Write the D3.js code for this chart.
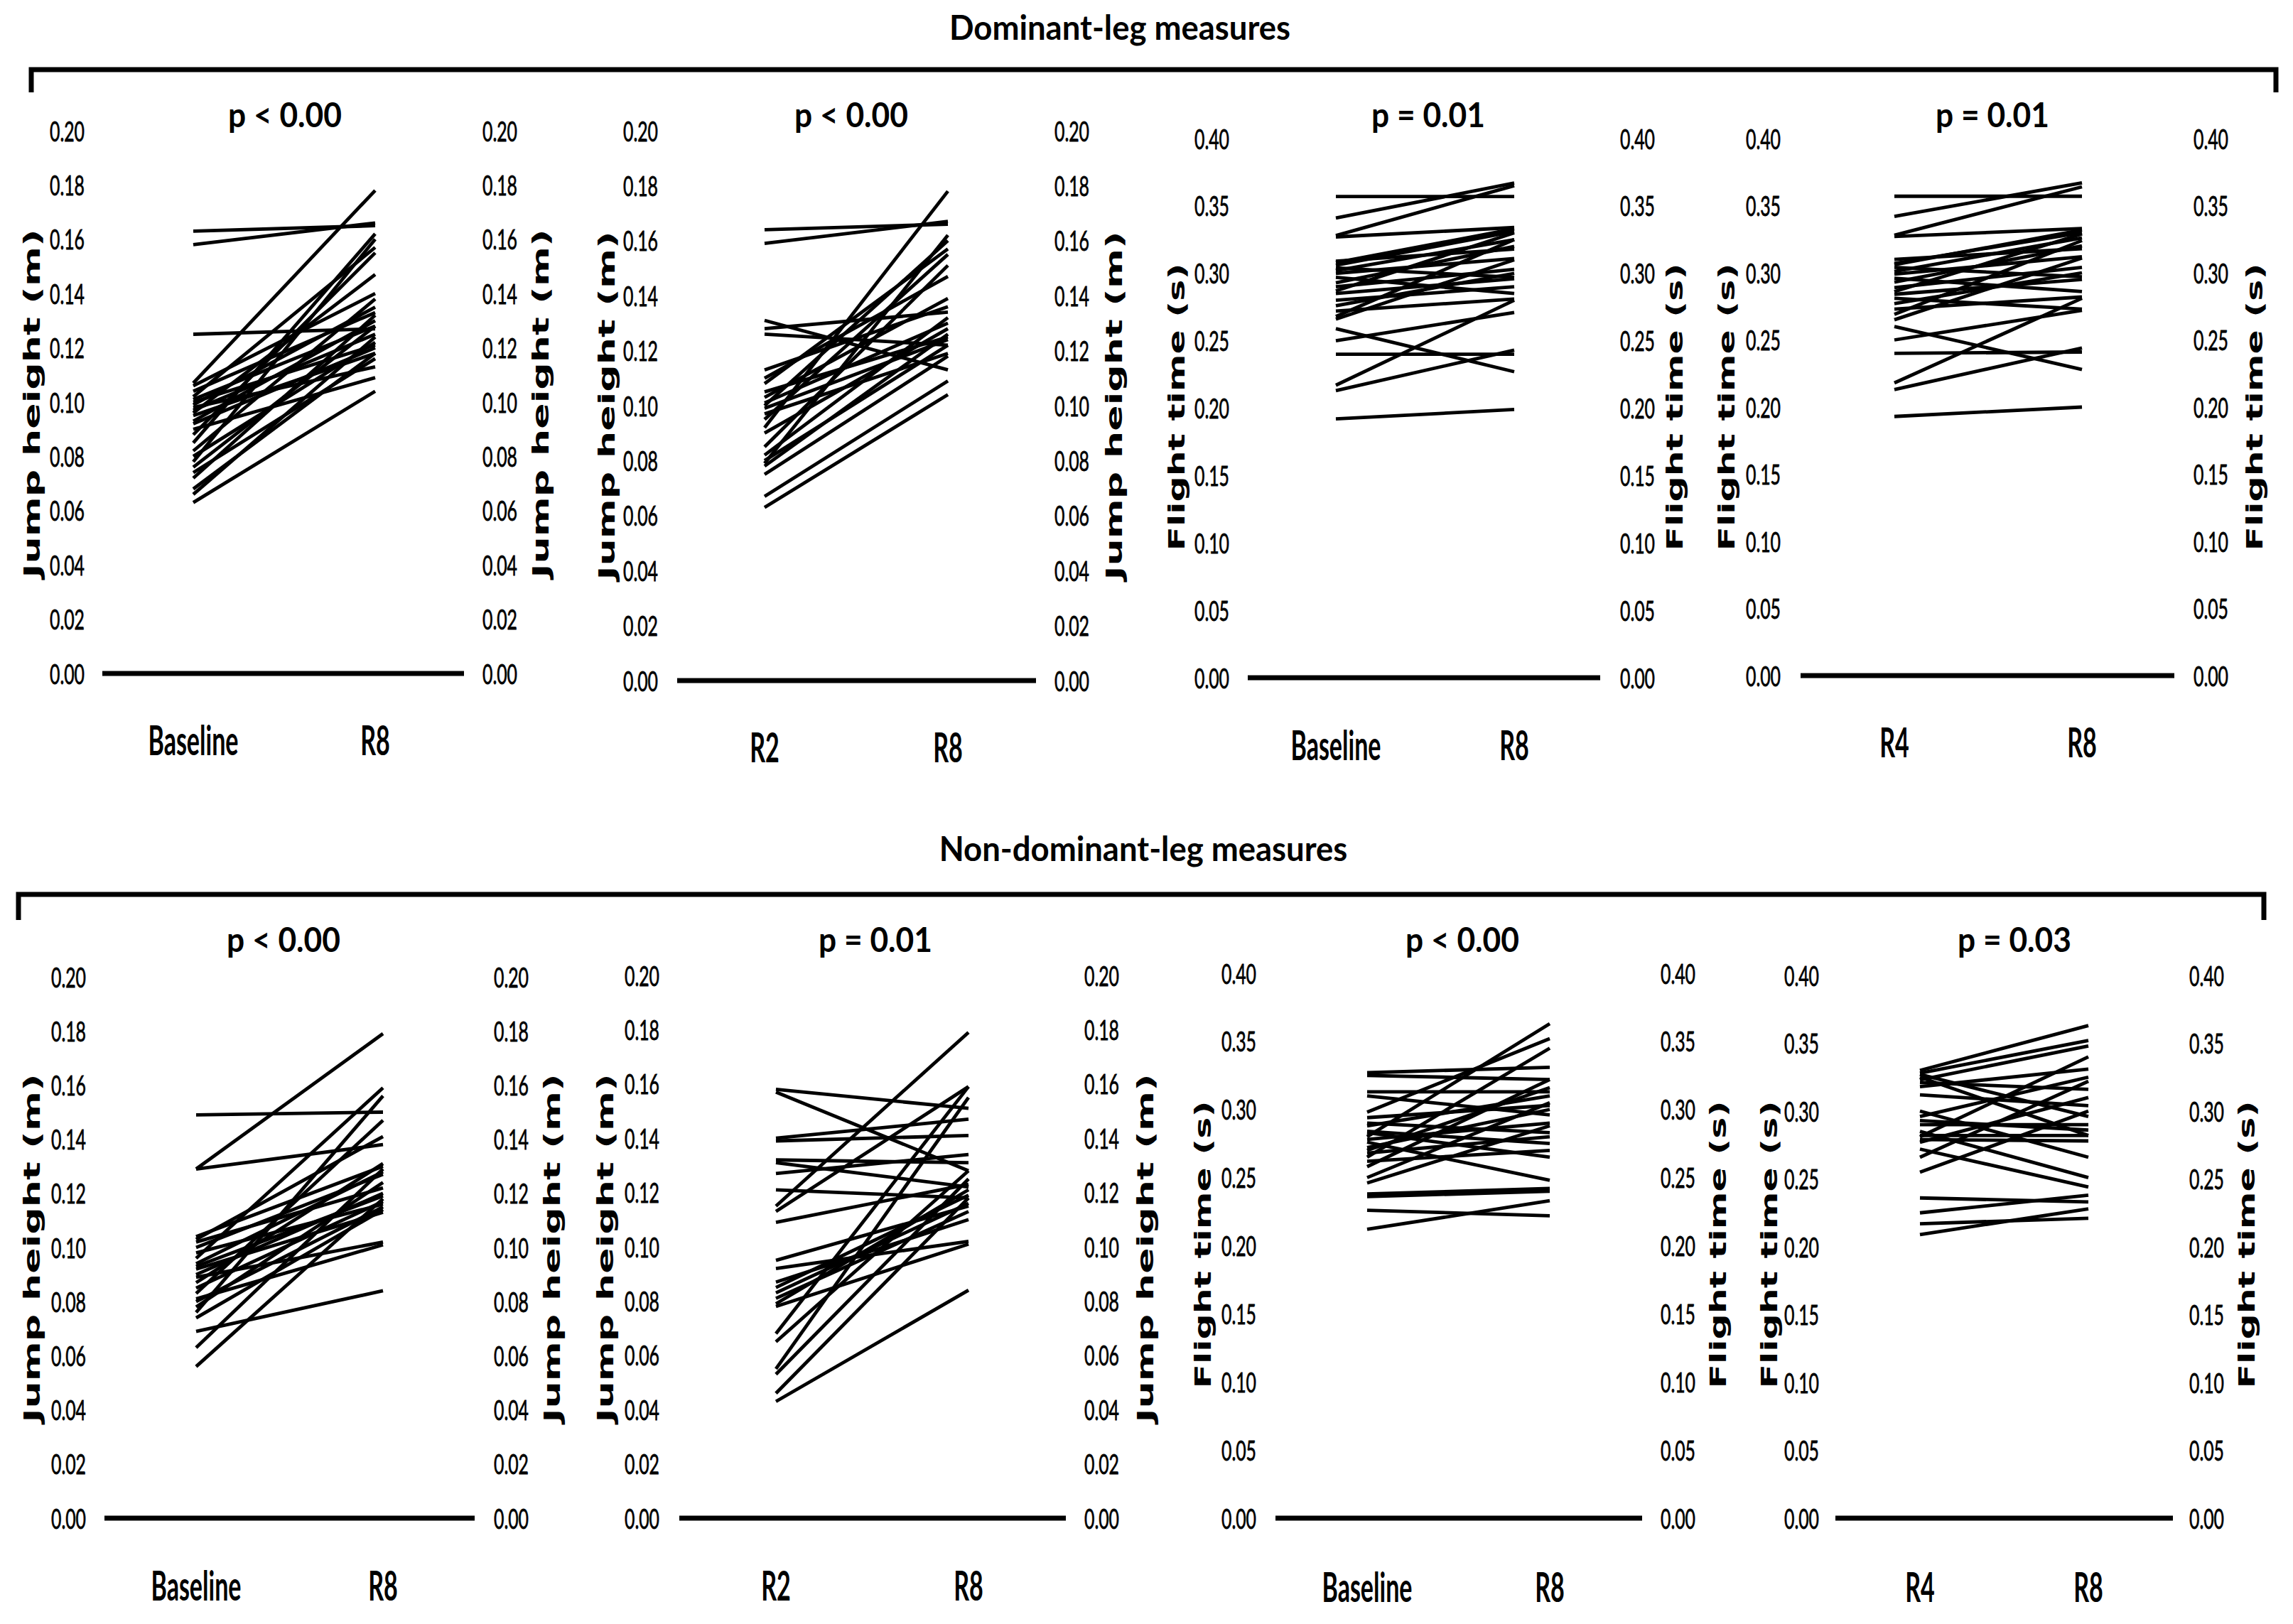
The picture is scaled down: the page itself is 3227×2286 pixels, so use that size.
<!DOCTYPE html>
<html>
<head>
<meta charset="utf-8">
<script src="https://cdn.jsdelivr.net/npm/d3@7"></script>
<style>
  body { margin: 0; background: #fff; }
  svg { display: block; }
  .tick text { font-family: Lato, "Open Sans", sans-serif; font-size: 39px; fill: #000; stroke: #000; stroke-width: 0.8px; }
  .cat { font-family: Lato, sans-serif; font-size: 58px; font-weight: 700; }
  .pval { font-family: Lato, sans-serif; font-size: 48px; font-weight: 700; }
  .title { font-family: Lato, sans-serif; font-size: 48px; font-weight: 700; }
  .ylab { font-family: "DejaVu Sans", sans-serif; font-size: 32px; font-weight: 700; }
</style>
</head>
<body>
<div id="chart"></div>
<script>
// ---- data ----
const groupTitles = ["Dominant-leg measures", "Non-dominant-leg measures"];
const catsBase = ["Baseline", "R8"];
const catsR2 = ["R2", "R8"];
const catsR4 = ["R4", "R8"];
const pValues = ["p < 0.00", "p < 0.00", "p = 0.01", "p = 0.01", "p < 0.00", "p = 0.01", "p < 0.00", "p = 0.03"];
const jumpTicks = [0, 0.02, 0.04, 0.06, 0.08, 0.10, 0.12, 0.14, 0.16, 0.18, 0.20];
const flightTicks = [0, 0.05, 0.10, 0.15, 0.20, 0.25, 0.30, 0.35, 0.40];
const jumpLabel = "Jump height (m)";
const flightLabel = "Flight time (s)";

// dominant leg, jump height, baseline -> R8
const domJumpBase = [0.163,0.158,0.125,0.107,0.106,0.104,0.102,0.101,0.100,0.099,0.098,0.097,0.096,0.095,0.093,0.090,0.088,0.085,0.082,0.080,0.078,0.076,0.072,0.068,0.066,0.063,0.092,0.074];
const domJumpBaseR8 = [0.165,0.166,0.127,0.178,0.140,0.133,0.157,0.128,0.121,0.135,0.113,0.125,0.147,0.118,0.130,0.109,0.155,0.162,0.138,0.122,0.160,0.128,0.132,0.118,0.124,0.104,0.120,0.116];
// dominant leg, jump height, R2 -> R8
const domJumpR2 = [0.164,0.159,0.131,0.128,0.126,0.110,0.108,0.105,0.103,0.101,0.100,0.097,0.095,0.092,0.090,0.085,0.082,0.080,0.079,0.078,0.075,0.067,0.063,0.113,0.099];
const domJumpR2R8 = [0.166,0.167,0.113,0.134,0.122,0.147,0.157,0.125,0.139,0.130,0.160,0.119,0.155,0.178,0.128,0.151,0.132,0.122,0.162,0.126,0.118,0.109,0.104,0.136,0.124];
// dominant leg, flight time, baseline -> R8
const domFlightBase = [0.357,0.341,0.328,0.327,0.309,0.306,0.304,0.302,0.300,0.297,0.293,0.290,0.287,0.280,0.276,0.272,0.268,0.266,0.259,0.250,0.240,0.217,0.213,0.192,0.285,0.308];
const domFlightBaseR8 = [0.357,0.367,0.365,0.334,0.318,0.331,0.297,0.325,0.311,0.285,0.320,0.303,0.330,0.290,0.300,0.281,0.325,0.310,0.227,0.271,0.240,0.280,0.243,0.199,0.296,0.333];
// dominant leg, flight time, R4 -> R8
const domFlightR4 = [0.357,0.342,0.328,0.327,0.310,0.307,0.304,0.301,0.299,0.296,0.293,0.289,0.286,0.281,0.277,0.273,0.269,0.265,0.260,0.250,0.240,0.218,0.213,0.193,0.284,0.306];
const domFlightR4R8 = [0.357,0.367,0.364,0.333,0.318,0.330,0.297,0.326,0.312,0.286,0.320,0.304,0.329,0.273,0.300,0.282,0.324,0.311,0.228,0.272,0.241,0.281,0.244,0.200,0.295,0.332];
// non-dominant leg, jump height, baseline -> R8
const ndJumpBase = [0.149,0.129,0.129,0.104,0.103,0.102,0.100,0.098,0.096,0.094,0.092,0.090,0.089,0.087,0.085,0.083,0.080,0.078,0.076,0.074,0.069,0.063,0.056,0.081,0.093];
const ndJumpBaseR8 = [0.150,0.179,0.138,0.130,0.141,0.122,0.127,0.116,0.159,0.128,0.113,0.120,0.102,0.131,0.117,0.147,0.115,0.124,0.156,0.114,0.084,0.129,0.118,0.101,0.119];
// non-dominant leg, jump height, R2 -> R8
const ndJumpR2 = [0.158,0.157,0.140,0.139,0.132,0.131,0.127,0.121,0.115,0.113,0.109,0.095,0.092,0.085,0.083,0.081,0.079,0.068,0.065,0.055,0.053,0.046,0.043,0.087,0.078];
const ndJumpR2R8 = [0.151,0.128,0.147,0.141,0.131,0.122,0.134,0.118,0.179,0.159,0.123,0.115,0.102,0.119,0.116,0.113,0.121,0.159,0.128,0.155,0.125,0.118,0.084,0.110,0.101];
// non-dominant leg, flight time, baseline -> R8
const ndFlightBase = [0.327,0.325,0.313,0.310,0.298,0.294,0.290,0.288,0.284,0.280,0.278,0.276,0.272,0.268,0.265,0.262,0.258,0.250,0.246,0.238,0.236,0.226,0.212,0.283,0.270];
const ndFlightBaseR8 = [0.331,0.322,0.313,0.296,0.352,0.303,0.283,0.310,0.275,0.363,0.290,0.248,0.300,0.280,0.345,0.270,0.322,0.305,0.288,0.242,0.240,0.222,0.233,0.265,0.316];
// non-dominant leg, flight time, R4 -> R8
const ndFlightR4 = [0.330,0.328,0.327,0.325,0.323,0.321,0.318,0.312,0.300,0.296,0.290,0.285,0.282,0.279,0.277,0.272,0.266,0.255,0.236,0.225,0.217,0.209,0.281,0.293];
const ndFlightR4R8 = [0.363,0.352,0.296,0.282,0.348,0.316,0.331,0.304,0.266,0.325,0.290,0.251,0.282,0.278,0.310,0.244,0.322,0.300,0.233,0.238,0.221,0.228,0.340,0.286];

// ---- layout (pixel geometry of each small panel) ----
const W = 3227, H = 2286;
const panels = [
  {pre: domJumpBase, post: domJumpBaseR8, cats: catsBase, kind: "jump",
   yTop: 184, y0: 948, xa: 272, xb: 528, ax0: 144, ax1: 653, tl: 119, tr: 679, yl: 45, yr: 761, ly: 568, px: 401, py: 179, cy: 1063},
  {pre: domJumpR2, post: domJumpR2R8, cats: catsR2, kind: "jump",
   yTop: 184, y0: 958, xa: 1076, xb: 1334, ax0: 953, ax1: 1458, tl: 926, tr: 1484, yl: 854, yr: 1568, ly: 571, px: 1198, py: 179, cy: 1073},
  {pre: domFlightBase, post: domFlightBaseR8, cats: catsBase, kind: "flight",
   yTop: 195, y0: 954, xa: 1880, xb: 2131, ax0: 1756, ax1: 2252, tl: 1730, tr: 2280, yl: 1656, yr: 2357, ly: 573, px: 2010, py: 179, cy: 1070},
  {pre: domFlightR4, post: domFlightR4R8, cats: catsR4, kind: "flight",
   yTop: 195, y0: 951, xa: 2666, xb: 2930, ax0: 2534, ax1: 3060, tl: 2506, tr: 3087, yl: 2430, yr: 3173, ly: 573, px: 2804, py: 179, cy: 1066},
  {pre: ndJumpBase, post: ndJumpBaseR8, cats: catsBase, kind: "jump",
   yTop: 1375, y0: 2137, xa: 276, xb: 539, ax0: 147, ax1: 668, tl: 121, tr: 695, yl: 45, yr: 777, ly: 1757, px: 399, py: 1340, cy: 2253},
  {pre: ndJumpR2, post: ndJumpR2R8, cats: catsR2, kind: "jump",
   yTop: 1373, y0: 2137, xa: 1092, xb: 1363, ax0: 956, ax1: 1500, tl: 928, tr: 1526, yl: 852, yr: 1612, ly: 1757, px: 1232, py: 1340, cy: 2253},
  {pre: ndFlightBase, post: ndFlightBaseR8, cats: catsBase, kind: "flight",
   yTop: 1370, y0: 2137, xa: 1924, xb: 2181, ax0: 1795, ax1: 2311, tl: 1768, tr: 2337, yl: 1693, yr: 2418, ly: 1752, px: 2058, py: 1340, cy: 2255},
  {pre: ndFlightR4, post: ndFlightR4R8, cats: catsR4, kind: "flight",
   yTop: 1373, y0: 2137, xa: 2702, xb: 2939, ax0: 2583, ax1: 3058, tl: 2560, tr: 3081, yl: 2490, yr: 3162, ly: 1752, px: 2835, py: 1340, cy: 2255}
];
const brackets = [
  {title: groupTitles[0], tx: 1576, ty: 56, x0: 44, x1: 3203, y: 98, drop: 130},
  {title: groupTitles[1], tx: 1609, ty: 1212, x0: 26, x1: 3186, y: 1259, drop: 1295}
];

const svg = d3.select("#chart").append("svg")
  .attr("width", W).attr("height", H)
  .attr("viewBox", `0 0 ${W} ${H}`);

svg.append("rect").attr("width", W).attr("height", H).attr("fill", "#fff");

// squeeze text horizontally (the figure is stretched vertically)
function fitWidth(sel, ref, target) {
  const probe = svg.append("text").attr("class", sel.attr("class")).text(ref);
  const k = target / probe.node().getComputedTextLength();
  probe.remove();
  sel.each(function() {
    const w = this.getComputedTextLength();
    d3.select(this).attr("textLength", w * k).attr("lengthAdjust", "spacingAndGlyphs");
  });
}

// group titles and brackets
brackets.forEach(b => {
  const t = svg.append("text").attr("class", "title")
    .attr("x", b.tx).attr("y", b.ty)
    .attr("text-anchor", "middle")
    .text(b.title);
  fitWidth(t, groupTitles[0], 480);

  svg.append("path")
    .attr("d", `M${b.x0},${b.drop}V${b.y}H${b.x1}V${b.drop}`)
    .attr("fill", "none")
    .attr("stroke", "#000")
    .attr("stroke-width", 7);
});

panels.forEach((p, i) => {
  const isJump = p.kind === "jump";
  const ticks = isJump ? jumpTicks : flightTicks;
  const y = d3.scaleLinear()
    .domain([0, isJump ? 0.20 : 0.40])
    .range([p.y0, p.yTop]);
  const x = d3.scalePoint().domain(p.cats).range([p.xa, p.xb]);

  const g = svg.append("g").attr("class", "panel");

  // left and right tick labels, no axis lines
  const left = g.append("g")
    .attr("transform", `translate(${p.tl},0)`)
    .call(d3.axisLeft(y).tickValues(ticks).tickFormat(d3.format(".2f")).tickSize(0).tickPadding(0));
  const right = g.append("g")
    .attr("transform", `translate(${p.tr},0)`)
    .call(d3.axisRight(y).tickValues(ticks).tickFormat(d3.format(".2f")).tickSize(0).tickPadding(0));
  [left, right].forEach(a => {
    a.select(".domain").remove();
    a.selectAll(".tick text").attr("dy", "0.36em").each(function() {
      d3.select(this).attr("textLength", 49).attr("lengthAdjust", "spacingAndGlyphs");
    });
  });

  // zero line
  g.append("line")
    .attr("x1", p.ax0).attr("x2", p.ax1)
    .attr("y1", y(0)).attr("y2", y(0))
    .attr("stroke", "#000").attr("stroke-width", 7);

  // one line per participant
  const pairs = p.pre.map((v, j) => [v, p.post[j]]);
  g.append("g").selectAll("line.subj")
    .data(pairs)
    .join("line")
    .attr("class", "subj")
    .attr("x1", x(p.cats[0])).attr("x2", x(p.cats[1]))
    .attr("y1", d => y(d[0])).attr("y2", d => y(d[1]))
    .attr("stroke", "#000")
    .attr("stroke-width", 4.8)
    .attr("stroke-linecap", "butt");

  // category labels
  const cats = g.selectAll("text.cat")
    .data(p.cats)
    .join("text")
    .attr("class", "cat")
    .attr("x", d => x(d)).attr("y", p.cy)
    .attr("text-anchor", "middle")
    .text(d => d);
  fitWidth(cats, "Baseline", 127);

  // p value
  const pv = g.append("text").attr("class", "pval")
    .attr("x", p.px).attr("y", p.py)
    .attr("text-anchor", "middle")
    .text(pValues[i]);
  fitWidth(pv, "p < 0.00", 160);

  // y labels on both sides
  const label = isJump ? jumpLabel : flightLabel;
  [p.yl, p.yr].forEach(lx => {
    g.append("text").attr("class", "ylab")
      .attr("transform", `translate(${lx},${p.ly}) rotate(-90)`)
      .attr("text-anchor", "middle")
      .attr("dominant-baseline", "central")
      .attr("textLength", isJump ? 491 : 405)
      .attr("lengthAdjust", "spacingAndGlyphs")
      .text(label);
  });
});
</script>
</body>
</html>
